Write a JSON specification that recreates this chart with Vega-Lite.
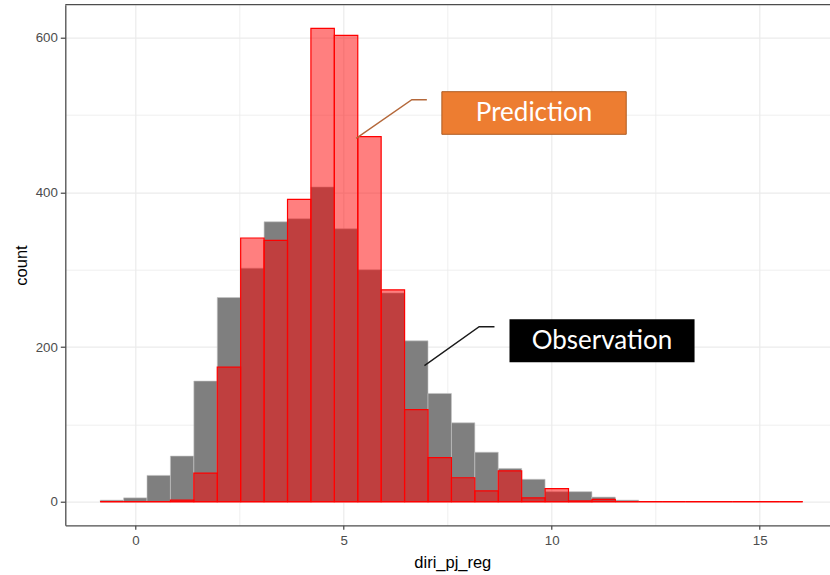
{
  "$schema": "https://vega.github.io/schema/vega-lite/v6.json",
  "width": 765,
  "height": 520.6,
  "autosize": {"type": "none"},
  "padding": {"left": 65.3, "top": 4.7, "right": 0, "bottom": 49.7},
  "background": "white",
  "config": {
    "view": {"stroke": null},
    "font": "Liberation Sans"
  },
  "datasets": {
    "bins": [
      {"lo": -0.850, "hi": -0.287, "obs": 2, "pred": 0},
      {"lo": -0.287, "hi": 0.275, "obs": 5, "pred": 0},
      {"lo": 0.275, "hi": 0.838, "obs": 34, "pred": 0},
      {"lo": 0.838, "hi": 1.401, "obs": 59, "pred": 2},
      {"lo": 1.401, "hi": 1.964, "obs": 156, "pred": 37},
      {"lo": 1.964, "hi": 2.526, "obs": 264, "pred": 174},
      {"lo": 2.526, "hi": 3.089, "obs": 302, "pred": 341},
      {"lo": 3.089, "hi": 3.652, "obs": 362, "pred": 338},
      {"lo": 3.652, "hi": 4.214, "obs": 366, "pred": 391},
      {"lo": 4.214, "hi": 4.777, "obs": 407, "pred": 612},
      {"lo": 4.777, "hi": 5.340, "obs": 353, "pred": 603},
      {"lo": 5.340, "hi": 5.902, "obs": 300, "pred": 472},
      {"lo": 5.902, "hi": 6.465, "obs": 270, "pred": 274},
      {"lo": 6.465, "hi": 7.028, "obs": 208, "pred": 119},
      {"lo": 7.028, "hi": 7.591, "obs": 140, "pred": 57},
      {"lo": 7.591, "hi": 8.153, "obs": 102, "pred": 31},
      {"lo": 8.153, "hi": 8.716, "obs": 64, "pred": 14},
      {"lo": 8.716, "hi": 9.279, "obs": 43, "pred": 40},
      {"lo": 9.279, "hi": 9.841, "obs": 29, "pred": 5},
      {"lo": 9.841, "hi": 10.404, "obs": 13, "pred": 17},
      {"lo": 10.404, "hi": 10.967, "obs": 13, "pred": 1},
      {"lo": 10.967, "hi": 11.529, "obs": 6, "pred": 3},
      {"lo": 11.529, "hi": 12.092, "obs": 2, "pred": 0},
      {"lo": 12.092, "hi": 12.655, "obs": 0, "pred": 0},
      {"lo": 12.655, "hi": 13.218, "obs": 0, "pred": 0},
      {"lo": 13.218, "hi": 13.780, "obs": 0, "pred": 0},
      {"lo": 13.780, "hi": 14.343, "obs": 0, "pred": 0},
      {"lo": 14.343, "hi": 14.906, "obs": 0, "pred": 0},
      {"lo": 14.906, "hi": 15.468, "obs": 0, "pred": 0},
      {"lo": 15.468, "hi": 16.031, "obs": 0, "pred": 0}
    ]
  },
  "layer": [
    {
      "data": {"name": "bins"},
      "transform": [{"filter": "datum.obs > 0"}],
      "mark": {"type": "rect", "fill": "#7f7f7f", "stroke": "#c4c4c4", "strokeWidth": 0.6},
      "encoding": {
        "x": {
          "field": "lo", "type": "quantitative",
          "scale": {"domain": [-1.688, 16.695], "nice": false, "zero": false},
          "axis": {
            "values": [0, 2.5, 5, 7.5, 10, 12.5, 15],
            "labelExpr": "datum.value % 5 === 0 ? format(datum.value, 'd') : ''",
            "title": "diri_pj_reg",
            "grid": true,
            "gridColor": "#EBEBEB",
            "gridWidth": {"condition": {"test": "datum.value % 5 === 0", "value": 1.2}, "value": 0.8},
            "domainColor": "#4d4d4d",
            "domainWidth": 1.3,
            "tickColor": "#333333",
            "tickOpacity": {"condition": {"test": "datum.value % 5 === 0", "value": 1}, "value": 0},
            "tickSize": 4,
            "tickWidth": 1.1,
            "labelColor": "#4d4d4d",
            "labelFont": "Liberation Sans",
            "labelFontSize": 13.3,
            "labelPadding": 4,
            "titleFont": "Liberation Sans",
            "titleFontSize": 16.5,
            "titleFontWeight": "normal",
            "titleColor": "#000000",
            "titlePadding": 8,
            "titleX": 387
          }
        },
        "x2": {"field": "hi"},
        "y": {
          "field": "obs", "type": "quantitative",
          "scale": {"domain": [-30.5, 642.7], "nice": false, "zero": false},
          "axis": {
            "values": [0, 100, 200, 300, 400, 500, 600],
            "labelExpr": "datum.value % 200 === 0 ? format(datum.value, 'd') : ''",
            "title": "count",
            "grid": true,
            "gridColor": "#EBEBEB",
            "gridWidth": {"condition": {"test": "datum.value % 200 === 0", "value": 1.2}, "value": 0.8},
            "domainColor": "#4d4d4d",
            "domainWidth": 1.3,
            "tickColor": "#333333",
            "tickOpacity": {"condition": {"test": "datum.value % 200 === 0", "value": 1}, "value": 0},
            "tickSize": 5,
            "tickWidth": 1.1,
            "labelColor": "#4d4d4d",
            "labelFont": "Liberation Sans",
            "labelFontSize": 13.3,
            "labelPadding": 3,
            "titleFont": "Liberation Sans",
            "titleFontSize": 16.5,
            "titleFontWeight": "normal",
            "titleColor": "#000000",
            "titlePadding": 6
          }
        },
        "y2": {"datum": 0}
      }
    },
    {
      "data": {"name": "bins"},
      "mark": {"type": "rect", "fill": "#ff0000", "fillOpacity": 0.5, "stroke": "#ff0000", "strokeWidth": 1.2},
      "encoding": {
        "x": {"field": "lo", "type": "quantitative"},
        "x2": {"field": "hi"},
        "y": {"field": "pred", "type": "quantitative"},
        "y2": {"datum": 0}
      }
    },
    {
      "data": {"name": "bins"},
      "mark": {"type": "rule", "color": "#ff0000", "strokeWidth": 1.2},
      "encoding": {
        "x": {"field": "lo", "type": "quantitative"},
        "x2": {"field": "hi"},
        "y": {"datum": 0, "type": "quantitative"}
      }
    },
    {
      "data": {"values": [{"edge": "top"}]},
      "mark": {"type": "rule", "color": "#4d4d4d", "strokeWidth": 1.3},
      "encoding": {"y": {"datum": 642.7, "type": "quantitative"}}
    },
    {
      "data": {"values": [
        {"x": 5.300, "y": 469.9, "k": 0},
        {"x": 6.639, "y": 519.8, "k": 1},
        {"x": 7.000, "y": 519.8, "k": 2}
      ]},
      "mark": {"type": "line", "color": "#B4683A", "strokeWidth": 1.4},
      "encoding": {
        "x": {"field": "x", "type": "quantitative"},
        "y": {"field": "y", "type": "quantitative"},
        "order": {"field": "k"}
      }
    },
    {
      "data": {"values": [{"x1": 7.361, "x2": 11.791, "y1": 475.1, "y2": 530.2, "tx": 9.576, "ty": 502.6, "label": "Prediction"}]},
      "layer": [
        {
          "mark": {"type": "rect", "fill": "#ED7D31", "stroke": "#AE5A21", "strokeWidth": 1},
          "encoding": {
            "x": {"field": "x1", "type": "quantitative"},
            "x2": {"field": "x2"},
            "y": {"field": "y1", "type": "quantitative"},
            "y2": {"field": "y2"}
          }
        },
        {
          "mark": {"type": "text", "font": "Lato", "fontSize": 26, "color": "#ffffff", "align": "center", "baseline": "middle"},
          "encoding": {
            "x": {"field": "tx", "type": "quantitative"},
            "y": {"field": "ty", "type": "quantitative"},
            "text": {"field": "label"}
          }
        }
      ]
    },
    {
      "data": {"values": [
        {"x": 6.942, "y": 175.9, "k": 0},
        {"x": 8.257, "y": 226.3, "k": 1},
        {"x": 8.625, "y": 226.3, "k": 2}
      ]},
      "mark": {"type": "line", "color": "#1a1a1a", "strokeWidth": 1.4},
      "encoding": {
        "x": {"field": "x", "type": "quantitative"},
        "y": {"field": "y", "type": "quantitative"},
        "order": {"field": "k"}
      }
    },
    {
      "data": {"values": [{"x1": 8.986, "x2": 13.433, "y1": 180.3, "y2": 235.9, "tx": 11.209, "ty": 208.1, "label": "Observation"}]},
      "layer": [
        {
          "mark": {"type": "rect", "fill": "#000000"},
          "encoding": {
            "x": {"field": "x1", "type": "quantitative"},
            "x2": {"field": "x2"},
            "y": {"field": "y1", "type": "quantitative"},
            "y2": {"field": "y2"}
          }
        },
        {
          "mark": {"type": "text", "font": "Lato", "fontSize": 26, "color": "#ffffff", "align": "center", "baseline": "middle"},
          "encoding": {
            "x": {"field": "tx", "type": "quantitative"},
            "y": {"field": "ty", "type": "quantitative"},
            "text": {"field": "label"}
          }
        }
      ]
    }
  ]
}
